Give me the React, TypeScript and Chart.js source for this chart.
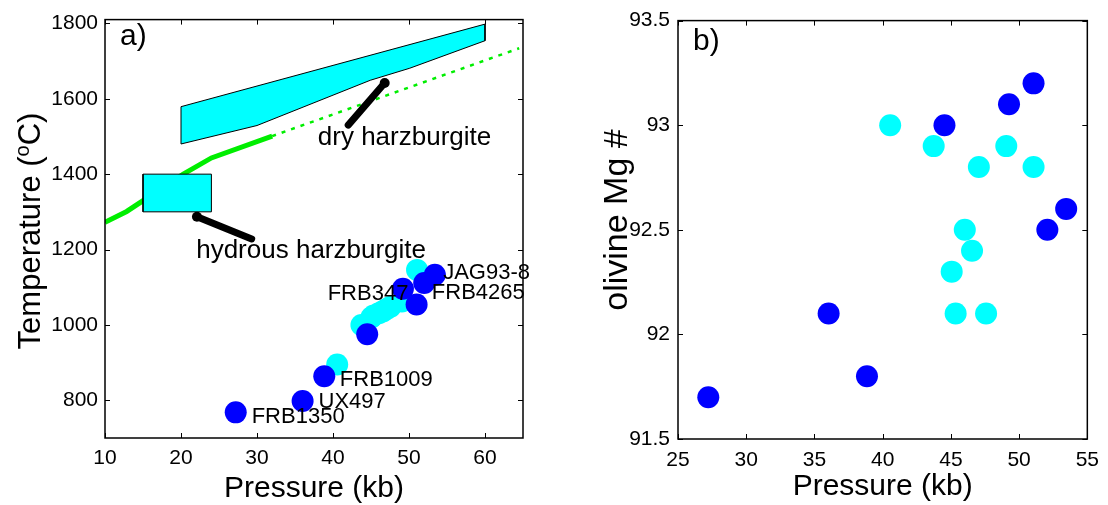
import React, { useEffect, useRef } from "react";
import { Chart, registerables } from "chart.js";

Chart.register(...registerables);

const FONT = "'Liberation Sans', Arial, Helvetica, sans-serif";
const BLUE = "#0000ff";
const CYAN = "#00ffff";
const GREEN = "#00ee00";

// ---------------- Panel a) data ----------------
const A_X_TICKS = [10, 20, 30, 40, 50, 60];
const A_Y_TICKS = [800, 1000, 1200, 1400, 1600, 1800];
const A_X_MIN = 10;
const A_X_MAX = 65;
const A_Y_MIN = 700;
const A_Y_MAX = 1810;

const A_BLUE_P = [27.2, 36.0, 38.85, 44.5, 49.2, 51.0, 52.0, 53.4];
const A_BLUE_T = [768, 798, 864, 975, 1096, 1054, 1111, 1133];
const A_CYAN_P = [40.55, 43.74, 45.06, 45.35, 46.02, 46.55, 47.05, 47.58, 49.06, 51.06];
const A_CYAN_T = [895, 1000, 1020, 1025, 1031, 1036, 1042, 1048, 1062, 1146];

const DRY_P = [20, 60, 60, 50.1, 44.9, 30, 20, 20];
const DRY_T = [1579, 1798, 1754, 1681, 1649, 1529, 1480, 1579];
const HYD_P = [15, 24, 24, 15, 15];
const HYD_T = [1300, 1300, 1400, 1400, 1300];

const SOLIDUS_P = [10, 12.85, 20.3, 24, 32];
const SOLIDUS_T = [1272, 1301, 1400, 1443, 1501];
const SOLIDUS_EXT_P = [32, 64.5];
const SOLIDUS_EXT_T = [1501, 1734];

const DRY_ARROW_P = [42.0, 46.8];
const DRY_ARROW_T = [1530, 1642];
const HYD_ARROW_P = [29.3, 22.1];
const HYD_ARROW_T = [1228, 1287];

const A_SAMPLE_LABELS = ["JAG93-8", "FRB4265", "FRB347", "FRB1009", "UX497", "FRB1350"];
const A_SAMPLE_LABEL_P = [54.5, 53.0, 39.3, 40.9, 38.1, 29.3];
const A_SAMPLE_LABEL_T = [1137, 1084, 1081, 853, 796, 756];

const A_FIELD_LABELS = ["dry harzburgite", "hydrous harzburgite"];
const A_FIELD_LABEL_P = [38.0, 22.0];
const A_FIELD_LABEL_T = [1496, 1197];

// ---------------- Panel b) data ----------------
const B_X_TICKS = [25, 30, 35, 40, 45, 50, 55];
const B_Y_TICKS = [91.5, 92, 92.5, 93, 93.5];
const B_X_MIN = 25;
const B_X_MAX = 55;
const B_Y_MIN = 91.5;
const B_Y_MAX = 93.5;

const B_BLUE_P = [51.06, 49.26, 44.53, 53.45, 52.07, 36.04, 38.85, 27.22];
const B_BLUE_MG = [93.2, 93.1, 93.0, 92.6, 92.5, 92.1, 91.8, 91.7];
const B_CYAN_P = [40.55, 43.74, 49.06, 47.05, 51.06, 46.02, 46.55, 45.06, 45.35, 47.58];
const B_CYAN_MG = [93.0, 92.9, 92.9, 92.8, 92.8, 92.5, 92.4, 92.3, 92.1, 92.1];

// ---------------- helpers ----------------
const pts = (xs: number[], ys: number[]) => xs.map((x, i) => ({ x, y: ys[i] }));

type TextItem = { text: string; x: number; y: number; size: number };
type TitlePart = { text: string; size: number; rise: number };

type PanelSpec = {
  left: number;
  xMin: number;
  xMax: number;
  yMin: number;
  yMax: number;
  xTicks: number[];
  yTicks: number[];
  padding: { left: number; right: number; top: number; bottom: number };
  xAxisH: number;
  yAxisW: number;
  xTickPad: number;
  yTickPad: number;
  datasets: any[];
  labels: TextItem[];
  xTitle: string;
  xTitleBaseline: number;
  yTitle: TitlePart[];
  yTitleX: number;
  yTitleCY: number;
  letter: string;
  letterX: number;
  letterBaseline: number;
};

function dot(data: { x: number; y: number }[], color: string, order: number) {
  return {
    data,
    backgroundColor: color,
    borderWidth: 0,
    pointRadius: 11,
    pointHoverRadius: 11,
    showLine: false,
    order,
  };
}

function line(data: { x: number; y: number }[], color: string, width: number, order: number, extra: any = {}) {
  return {
    data,
    showLine: true,
    borderColor: color,
    borderWidth: width,
    pointRadius: 0,
    pointHoverRadius: 0,
    tension: 0,
    fill: false,
    order,
    ...extra,
  };
}

function makePlugin(spec: PanelSpec) {
  return {
    id: "panelDecor",
    afterDatasetsDraw(chart: any) {
      const { ctx, scales } = chart;
      ctx.save();
      ctx.fillStyle = "#000";
      ctx.textAlign = "left";
      ctx.textBaseline = "middle";
      for (const l of spec.labels) {
        ctx.font = `${l.size}px ${FONT}`;
        ctx.fillText(l.text, scales.x.getPixelForValue(l.x), scales.y.getPixelForValue(l.y));
      }
      ctx.restore();
    },
    afterDraw(chart: any) {
      const { ctx, chartArea: a, scales } = chart;
      ctx.save();
      // frame
      ctx.strokeStyle = "#000";
      ctx.lineWidth = 1.5;
      ctx.strokeRect(a.left, a.top, a.right - a.left, a.bottom - a.top);
      // inward ticks on all sides
      ctx.lineWidth = 1;
      ctx.beginPath();
      for (const v of spec.xTicks) {
        const px = Math.round(scales.x.getPixelForValue(v)) + 0.5;
        ctx.moveTo(px, a.bottom);
        ctx.lineTo(px, a.bottom - 5);
        ctx.moveTo(px, a.top);
        ctx.lineTo(px, a.top + 5);
      }
      for (const v of spec.yTicks) {
        const py = Math.round(scales.y.getPixelForValue(v)) + 0.5;
        ctx.moveTo(a.left, py);
        ctx.lineTo(a.left + 5, py);
        ctx.moveTo(a.right, py);
        ctx.lineTo(a.right - 5, py);
      }
      ctx.stroke();

      ctx.fillStyle = "#000";
      // x title
      ctx.font = `30px ${FONT}`;
      ctx.textAlign = "center";
      ctx.textBaseline = "alphabetic";
      ctx.fillText(spec.xTitle, (a.left + a.right) / 2, spec.xTitleBaseline);

      // y title (rotated, with optional superscript)
      ctx.save();
      ctx.translate(spec.yTitleX, spec.yTitleCY);
      ctx.rotate(-Math.PI / 2);
      ctx.textAlign = "left";
      let total = 0;
      for (const p of spec.yTitle) {
        ctx.font = `${p.size}px ${FONT}`;
        total += ctx.measureText(p.text).width;
      }
      let cx = -total / 2;
      for (const p of spec.yTitle) {
        ctx.font = `${p.size}px ${FONT}`;
        ctx.fillText(p.text, cx, -p.rise);
        cx += ctx.measureText(p.text).width;
      }
      ctx.restore();

      // panel letter
      ctx.font = `30px ${FONT}`;
      ctx.textAlign = "left";
      ctx.textBaseline = "alphabetic";
      ctx.fillText(spec.letter, spec.letterX, spec.letterBaseline);
      ctx.restore();
    },
  };
}

function buildConfig(spec: PanelSpec): any {
  const tickFont = { family: FONT, size: 21 };
  return {
    type: "scatter",
    data: { datasets: spec.datasets },
    options: {
      animation: false,
      responsive: false,
      events: [],
      layout: { padding: spec.padding },
      plugins: {
        legend: { display: false },
        tooltip: { enabled: false },
        title: { display: false },
      },
      scales: {
        x: {
          type: "linear",
          min: spec.xMin,
          max: spec.xMax,
          grid: { display: false, drawTicks: false },
          border: { display: false },
          ticks: {
            font: tickFont,
            color: "#000",
            padding: spec.xTickPad,
            maxRotation: 0,
            autoSkip: false,
            callback: (v: any) => String(v),
          },
          afterBuildTicks: (s: any) => {
            s.ticks = spec.xTicks.map((v) => ({ value: v }));
          },
          afterFit: (s: any) => {
            s.height = spec.xAxisH;
          },
        },
        y: {
          type: "linear",
          min: spec.yMin,
          max: spec.yMax,
          grid: { display: false, drawTicks: false },
          border: { display: false },
          ticks: {
            font: tickFont,
            color: "#000",
            padding: spec.yTickPad,
            autoSkip: false,
            callback: (v: any) => String(v),
          },
          afterBuildTicks: (s: any) => {
            s.ticks = spec.yTicks.map((v) => ({ value: v }));
          },
          afterFit: (s: any) => {
            s.width = spec.yAxisW;
          },
        },
      },
    },
    plugins: [makePlugin(spec)],
  };
}

const arrowExtra = {
  pointRadius: [0, 5],
  pointBackgroundColor: "#000",
  pointBorderWidth: 0,
  borderCapStyle: "round",
};

const SPEC_A: PanelSpec = {
  left: 0,
  xMin: A_X_MIN,
  xMax: A_X_MAX,
  yMin: A_Y_MIN,
  yMax: A_Y_MAX,
  xTicks: A_X_TICKS,
  yTicks: A_Y_TICKS,
  padding: { left: 0, right: 31, top: 18, bottom: 0 },
  xAxisH: 67,
  yAxisW: 105,
  xTickPad: 8,
  yTickPad: 7,
  datasets: [
    dot(pts(A_BLUE_P, A_BLUE_T), BLUE, 1),
    dot(pts(A_CYAN_P, A_CYAN_T), CYAN, 2),
    line(pts(DRY_ARROW_P, DRY_ARROW_T), "#000", 7, 3, arrowExtra),
    line(pts(HYD_ARROW_P, HYD_ARROW_T), "#000", 7, 3, arrowExtra),
    line(pts(DRY_P, DRY_T), "#000", 1, 5, { fill: "shape", backgroundColor: CYAN }),
    line(pts(HYD_P, HYD_T), "#000", 1, 5, { fill: "shape", backgroundColor: CYAN }),
    line(pts(SOLIDUS_P, SOLIDUS_T), GREEN, 5, 8),
    line(pts(SOLIDUS_EXT_P, SOLIDUS_EXT_T), GREEN, 2.5, 8, { borderDash: [4, 6] }),
  ],
  labels: [
    ...A_SAMPLE_LABELS.map((t, i) => ({ text: t, x: A_SAMPLE_LABEL_P[i], y: A_SAMPLE_LABEL_T[i], size: 22 })),
    ...A_FIELD_LABELS.map((t, i) => ({ text: t, x: A_FIELD_LABEL_P[i], y: A_FIELD_LABEL_T[i], size: 26 })),
  ],
  xTitle: "Pressure (kb)",
  xTitleBaseline: 497,
  yTitle: [
    { text: "Temperature (", size: 31, rise: 0 },
    { text: "o", size: 20, rise: 11 },
    { text: "C)", size: 31, rise: 0 },
  ],
  yTitleX: 40,
  yTitleCY: 231,
  letter: "a)",
  letterX: 120,
  letterBaseline: 45,
};

const SPEC_B: PanelSpec = {
  left: 554,
  xMin: B_X_MIN,
  xMax: B_X_MAX,
  yMin: B_Y_MIN,
  yMax: B_Y_MAX,
  xTicks: B_X_TICKS,
  yTicks: B_Y_TICKS,
  padding: { left: 0, right: 13, top: 18, bottom: 0 },
  xAxisH: 66,
  yAxisW: 124,
  xTickPad: 9,
  yTickPad: 8,
  datasets: [
    dot(pts(B_BLUE_P, B_BLUE_MG), BLUE, 1),
    dot(pts(B_CYAN_P, B_CYAN_MG), CYAN, 2),
  ],
  labels: [],
  xTitle: "Pressure (kb)",
  xTitleBaseline: 495,
  yTitle: [{ text: "olivine Mg #", size: 34, rise: 0 }],
  yTitleX: 73,
  yTitleCY: 220,
  letter: "b)",
  letterX: 139,
  letterBaseline: 50,
};

function Panel({ spec }: { spec: PanelSpec }) {
  const ref = useRef<HTMLCanvasElement>(null);
  useEffect(() => {
    if (!ref.current) return;
    const chart = new Chart(ref.current, buildConfig(spec));
    return () => chart.destroy();
  }, [spec]);
  return (
    <canvas
      ref={ref}
      width={554}
      height={505}
      style={{ position: "absolute", left: spec.left, top: 0, width: 554, height: 505 }}
    />
  );
}

export default function App() {
  return (
    <div style={{ position: "absolute", left: 0, top: 0, width: 1108, height: 505, background: "#fff", overflow: "hidden" }}>
      <Panel spec={SPEC_A} />
      <Panel spec={SPEC_B} />
    </div>
  );
}
